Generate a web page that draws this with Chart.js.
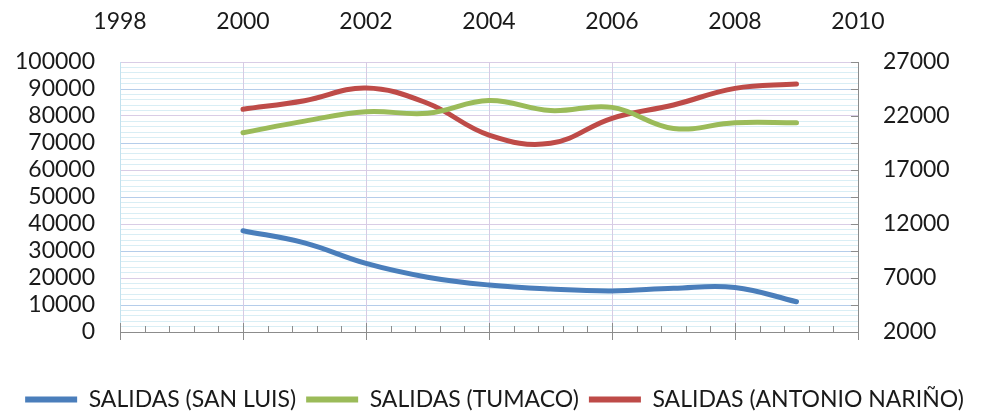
<!DOCTYPE html>
<html>
<head>
<meta charset="utf-8">
<script src="https://cdn.jsdelivr.net/npm/chart.js@4.4.1/dist/chart.umd.min.js"></script>
<style>
  html, body { margin: 0; padding: 0; background: #fff; }
  #wrap { width: 989px; height: 414px; position: relative; }
</style>
</head>
<body>
<div id="wrap"><canvas id="salidasChart"></canvas></div>
<script>
// Data
const years = [2000, 2001, 2002, 2003, 2004, 2005, 2006, 2007, 2008, 2009];
const sanLuis = [37500, 33000, 25400, 20300, 17400, 15900, 15200, 16200, 16500, 11200];
const tumaco = [73800, 78100, 81600, 81000, 85700, 82000, 83200, 75400, 77500, 77500];
// Antonio Nariño sits on the right-hand axis
const antonioNarino = [22620, 23420, 24590, 23180, 20240, 19470, 21790, 23020, 24560, 24960];

const seriesNames = ['SALIDAS (SAN LUIS)', 'SALIDAS (TUMACO)', 'SALIDAS (ANTONIO NARIÑO)'];
const xTicks = [1998, 2000, 2002, 2004, 2006, 2008, 2010];
const leftTicks = [0, 10000, 20000, 30000, 40000, 50000, 60000, 70000, 80000, 90000, 100000];
const rightTicks = [2000, 7000, 12000, 17000, 22000, 27000];

const FONT = 'Lato';
const PAD_BOTTOM = -7;   // lets the legend sit a bit lower
const toPoints = (vals) => vals.map((v, i) => ({ x: years[i], y: v }));
const plain = (v) => String(v);

// Small inward tick marks like the original (bottom axis and right axis)
const tickMarks = {
    id: 'tickMarks',
    afterDraw(chart) {
        const { ctx, chartArea: a, scales } = chart;
        ctx.save();
        ctx.strokeStyle = '#8c8c8c';
        ctx.lineWidth = 1;
        for (let i = 0; i <= 30; i++) {
            const x = Math.round(scales.x.getPixelForValue(xTicks[0] + i * 0.4)) + 0.5;
            const major = i % 5 === 0;
            ctx.beginPath();
            ctx.moveTo(x, major ? a.bottom - 9 : a.bottom - 6);
            ctx.lineTo(x, major ? a.bottom + 8 : a.bottom);
            ctx.stroke();
        }
        for (let v = rightTicks[0]; v <= rightTicks[rightTicks.length - 1]; v += 2500) {
            const y = Math.round(scales.y1.getPixelForValue(v)) + 0.5;
            ctx.beginPath();
            ctx.moveTo(a.right - 7, y);
            ctx.lineTo(a.right, y);
            ctx.stroke();
        }
        ctx.restore();
    }
};

const ctx = document.getElementById('salidasChart').getContext('2d');

new Chart(ctx, {
    type: 'line',
    data: {
        datasets: [
            { label: seriesNames[0], data: toPoints(sanLuis), borderColor: '#4a7ebb', backgroundColor: '#4a7ebb', yAxisID: 'y' },
            { label: seriesNames[1], data: toPoints(tumaco), borderColor: '#9bbb59', backgroundColor: '#9bbb59', yAxisID: 'y' },
            { label: seriesNames[2], data: toPoints(antonioNarino), borderColor: '#be4b48', backgroundColor: '#be4b48', yAxisID: 'y1' }
        ]
    },
    options: {
        responsive: true,
        maintainAspectRatio: false,
        animation: false,
        layout: { padding: { left: 0, right: 0, top: 0, bottom: PAD_BOTTOM } },
        elements: {
            line: { borderWidth: 5, tension: 0.4, borderCapStyle: 'round' },
            point: { radius: 0, hoverRadius: 0 }
        },
        scales: {
            // minor horizontal gridlines
            ym: {
                type: 'linear', position: 'left', min: 0, max: 100000, z: -1,
                ticks: { display: false, stepSize: 2000 },
                grid: { color: '#d9eef5', drawTicks: false },
                border: { display: false },
                afterFit: (s) => { s.width = 0; }
            },
            y: {
                type: 'linear', position: 'left', min: 0, max: 100000,
                afterBuildTicks: (s) => { s.ticks = leftTicks.map(v => ({ value: v })); },
                ticks: { color: '#1a1a1a', font: { family: FONT, size: 23 }, padding: 25, autoSkip: false, callback: plain },
                grid: {
                    drawTicks: false,
                    color: (c) => (c.tick && c.tick.value % 20000 === 0) ? '#d9cde6' : '#b5cdea'
                },
                border: { color: '#c3e1ee' },
                afterFit: (s) => { s.width = 120; }
            },
            y1: {
                type: 'linear', position: 'right', min: 2000, max: 27000,
                afterBuildTicks: (s) => { s.ticks = rightTicks.map(v => ({ value: v })); },
                ticks: { color: '#1a1a1a', font: { family: FONT, size: 23 }, padding: 25, autoSkip: false, callback: plain },
                grid: { drawOnChartArea: false, drawTicks: false },
                border: { color: '#8c8c8c' },
                afterFit: (s) => { s.width = 131; }
            },
            x: {
                type: 'linear', position: 'bottom', min: 1998, max: 2010,
                afterBuildTicks: (s) => { s.ticks = xTicks.map(v => ({ value: v })); },
                ticks: { display: false },
                grid: { color: '#d6cbe4', drawTicks: false },
                border: { color: '#8c8c8c' },
                afterFit: (s) => {
                    s.height = s.chart.height - PAD_BOTTOM - 332 - (s.chart.legend ? s.chart.legend.height : 0);
                }
            },
            x2: {
                type: 'linear', position: 'top', min: 1998, max: 2010,
                afterBuildTicks: (s) => { s.ticks = xTicks.map(v => ({ value: v })); },
                ticks: { color: '#1a1a1a', font: { family: FONT, size: 23 }, padding: 27, maxRotation: 0, autoSkip: false, callback: plain },
                grid: { display: false, drawTicks: false },
                border: { display: false },
                afterFit: (s) => { s.height = 62; }
            }
        },
        plugins: {
            legend: {
                position: 'bottom',
                labels: {
                    color: '#1a1a1a',
                    font: { family: FONT, size: 23 },
                    boxWidth: 52,
                    boxHeight: 6,
                    padding: 10,
                    generateLabels: (chart) => Chart.defaults.plugins.legend.labels.generateLabels(chart)
                        .map(l => Object.assign(l, { lineWidth: 0 }))
                }
            },
            tooltip: { enabled: false }
        }
    },
    plugins: [tickMarks]
});
</script>
</body>
</html>
